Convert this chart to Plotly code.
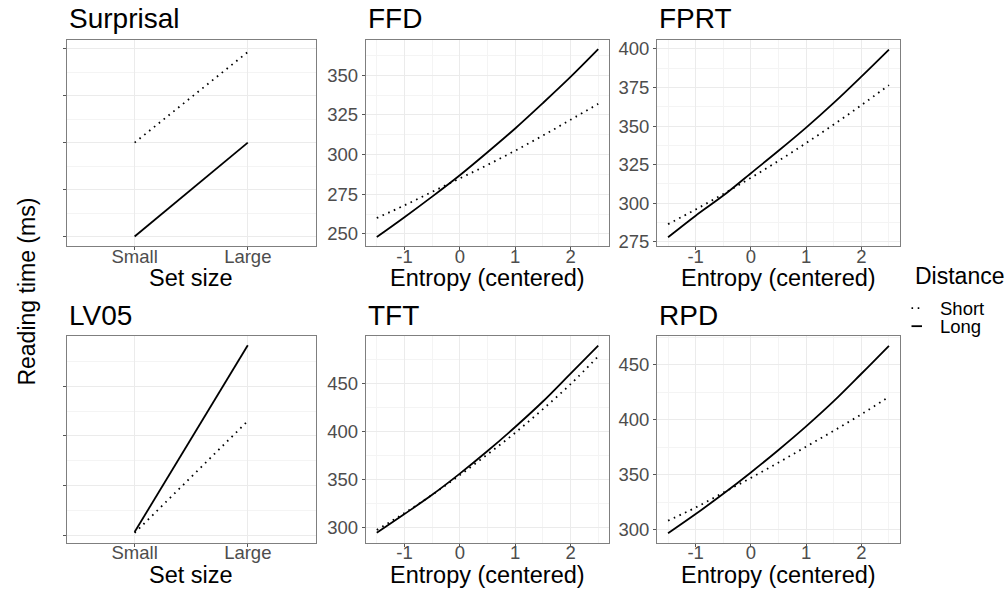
import plotly.graph_objects as go

W, H = 1006, 602
FONT = "Liberation Sans, Arial, sans-serif"

# ---- data -------------------------------------------------------------
set_size = ["Small", "Large"]
surprisal_short = [2.0, 3.93]
surprisal_long = [0.0, 2.0]
lv05_short = [0.05, 2.30]
lv05_long = [0.07, 3.82]

entropy = [-1.5, -1.0, -0.5, 0.0, 0.5, 1.0, 1.5, 2.0, 2.5]
ffd_short = [260, 268, 276.5, 285, 293.5, 302.5, 312, 322, 332]
ffd_long = [248, 260.5, 273.5, 287, 301.5, 316.5, 332.5, 349, 366.5]
fprt_short = [286.5, 296, 306, 316.5, 327.5, 339, 351, 363.5, 376.5]
fprt_long = [278, 292, 305, 319.5, 334, 349, 365, 382, 399.5]
tft_short = [297.5, 315, 334, 354.5, 376, 398.5, 423, 449, 478]
tft_long = [294.5, 314, 334, 356, 379.5, 404.5, 431, 460, 489]
rpd_short = [308, 320, 333.5, 347, 361, 375.5, 390, 405, 421]
rpd_long = [296.5, 314, 332.5, 352, 372.5, 394, 417, 442, 467.5]

entropy_ticks = [-1, 0, 1, 2]
entropy_labels = ["-1", "0", "1", "2"]
entropy_minor = [-1.5, -0.5, 0.5, 1.5, 2.5]

# ---- styling ----------------------------------------------------------
LINE_W = 1.8
DOT = "1.6px,4.6px"
BORDER = "#7f7f7f"
GRID = "#ebebeb"
GRID_MINOR = "#f4f4f4"
TICK_FONT = dict(family=FONT, size=18.5, color="#4d4d4d")


def px_x(x):
    return x / W


def px_y(y):
    return 1 - y / H


# panel boxes in pixels: (left, right, top, bottom)
COLS = [(66.7, 315.7), (365.7, 609.3), (657.0, 900.0)]
ROWS = [(39.3, 248.3), (339.3, 548.3)]

panels = [
    dict(title="Surprisal", x=set_size, short=surprisal_short, long=surprisal_long,
         xtitle="Set size", cat=True, yr=[-0.21, 4.19], yticks=[0, 1, 2, 3, 4],
         yminor=[0.5, 1.5, 2.5, 3.5], ylabels=False, col=0, row=0),
    dict(title="FFD", x=entropy, short=ffd_short, long=ffd_long,
         xtitle="Entropy (centered)", cat=False, yr=[242.1, 372.4],
         yticks=[250, 275, 300, 325, 350], yminor=[262.5, 287.5, 312.5, 337.5, 362.5],
         ylabels=True, col=1, row=0),
    dict(title="FPRT", x=entropy, short=fprt_short, long=fprt_long,
         xtitle="Entropy (centered)", cat=False, yr=[272.1, 405.8],
         yticks=[275, 300, 325, 350, 375, 400],
         yminor=[287.5, 312.5, 337.5, 362.5, 387.5], ylabels=True, col=2, row=0),
    dict(title="LV05", x=set_size, short=lv05_short, long=lv05_long,
         xtitle="Set size", cat=True, yr=[-0.15, 4.0], yticks=[0, 1, 2, 3],
         yminor=[0.5, 1.5, 2.5, 3.5], ylabels=False, col=0, row=1),
    dict(title="TFT", x=entropy, short=tft_short, long=tft_long,
         xtitle="Entropy (centered)", cat=False, yr=[284.0, 498.7],
         yticks=[300, 350, 400, 450], yminor=[325, 375, 425, 475],
         ylabels=True, col=1, row=1),
    dict(title="RPD", x=entropy, short=rpd_short, long=rpd_long,
         xtitle="Entropy (centered)", cat=False, yr=[287.7, 476.1],
         yticks=[300, 350, 400, 450], yminor=[325, 375, 425, 475],
         ylabels=True, col=2, row=1),
]

fig = go.Figure()
annotations = []
shapes = []
layout = {}

for i, p in enumerate(panels, start=1):
    sfx = "" if i == 1 else str(i)
    xa, ya = "x" + sfx, "y" + sfx
    left, right = COLS[p["col"]]
    top, bottom = ROWS[p["row"]]

    for name, vals, dash in (("Short", p["short"], DOT), ("Long", p["long"], "solid")):
        fig.add_trace(go.Scatter(
            x=p["x"], y=vals, mode="lines", name=name, showlegend=False,
            line=dict(color="black", width=LINE_W, dash=dash,
                      shape="linear" if p["cat"] else "spline"),
            xaxis=xa, yaxis=ya, hoverinfo="skip",
        ))

    common = dict(showline=True, linecolor=BORDER, linewidth=1, mirror=True,
                  ticks="outside", ticklen=3, tickwidth=1, tickcolor="#555555",
                  showgrid=True, gridcolor=GRID, gridwidth=1, zeroline=False,
                  tickfont=TICK_FONT)

    if p["cat"]:
        xax = dict(common, type="category", categoryorder="array",
                   categoryarray=set_size, range=[-0.6, 1.6])
    else:
        xax = dict(common, range=[-1.7, 2.7], tickmode="array", tickvals=entropy_ticks,
                   ticktext=entropy_labels,
                   minor=dict(tickmode="array", tickvals=entropy_minor, showgrid=True,
                              gridcolor=GRID_MINOR, gridwidth=0.8, ticks=""))
    xax.update(domain=[px_x(left), px_x(right)], anchor=ya, ticklabelstandoff=-10)

    yax = dict(common, range=p["yr"], tickmode="array", tickvals=p["yticks"],
               showticklabels=p["ylabels"],
               minor=dict(tickmode="array", tickvals=p["yminor"], showgrid=True,
                          gridcolor=GRID_MINOR, gridwidth=0.8, ticks=""),
               domain=[px_y(bottom), px_y(top)], anchor=xa)

    layout["xaxis" + sfx] = xax
    layout["yaxis" + sfx] = yax

    # panel title
    annotations.append(dict(
        text=p["title"], xref="paper", yref="paper", x=px_x(left), y=px_y(top - 21.5),
        xanchor="left", yanchor="middle", showarrow=False,
        font=dict(family=FONT, size=28, color="black"),
    ))
    # x-axis title
    annotations.append(dict(
        text=p["xtitle"], xref="paper", yref="paper", x=px_x((left + right) / 2),
        y=px_y(bottom + 32), xanchor="center", yanchor="middle", showarrow=False,
        font=dict(family=FONT, size=23.5, color="black"),
    ))

# shared y-axis title
annotations.append(dict(
    text="Reading time (ms)", xref="paper", yref="paper", x=px_x(27), y=px_y(294),
    xanchor="center", yanchor="middle", textangle=-90, showarrow=False,
    font=dict(family=FONT, size=23, color="black"),
))

# legend for line type
annotations.append(dict(
    text="Distance", xref="paper", yref="paper", x=px_x(913), y=px_y(278.5),
    xanchor="left", yanchor="middle", showarrow=False,
    font=dict(family=FONT, size=23, color="black"),
))
for label, ypix, dash in (("Short", 310.7, DOT), ("Long", 329.0, "solid")):
    annotations.append(dict(
        text=label, xref="paper", yref="paper", x=px_x(938), y=px_y(ypix),
        xanchor="left", yanchor="middle", showarrow=False,
        font=dict(family=FONT, size=18.5, color="black"),
    ))
    shapes.append(dict(
        type="line", xref="paper", yref="paper",
        x0=px_x(911.5), x1=px_x(922), y0=px_y(ypix), y1=px_y(ypix),
        line=dict(color="black", width=LINE_W, dash=dash),
    ))

fig.update_layout(
    width=W, height=H,
    margin=dict(l=0, r=0, t=0, b=0),
    paper_bgcolor="white", plot_bgcolor="white",
    showlegend=False,
    annotations=annotations, shapes=shapes,
    font=dict(family=FONT),
    **layout,
)

fig.write_html("out.html")
